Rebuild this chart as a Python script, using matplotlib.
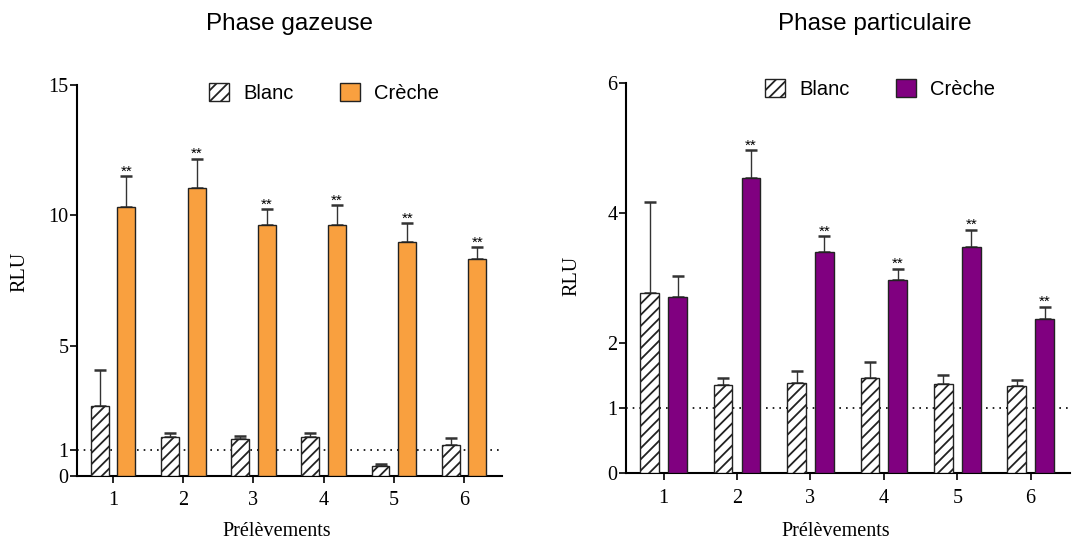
import numpy as np
import matplotlib
matplotlib.use("Agg")
import matplotlib.pyplot as plt
from matplotlib.patches import Patch

prelevements = [1, 2, 3, 4, 5, 6]

# Phase gazeuse
gaz_blanc = [2.70, 1.50, 1.43, 1.51, 0.37, 1.20]
gaz_blanc_err = [1.38, 0.16, 0.12, 0.15, 0.10, 0.25]
gaz_creche = [10.31, 11.06, 9.64, 9.64, 8.96, 8.34]
gaz_creche_err = [1.19, 1.11, 0.60, 0.74, 0.74, 0.44]
gaz_signif = [True, True, True, True, True, True]

# Phase particulaire
part_blanc = [2.78, 1.36, 1.39, 1.46, 1.38, 1.35]
part_blanc_err = [1.40, 0.10, 0.19, 0.25, 0.14, 0.08]
part_creche = [2.71, 4.55, 3.40, 2.97, 3.48, 2.38]
part_creche_err = [0.33, 0.42, 0.25, 0.18, 0.27, 0.18]
part_signif = [False, True, True, True, True, True]

ORANGE = "#F9A03F"
VIOLET = "#800080"

plt.rcParams['hatch.linewidth'] = 1.3
serif = "Liberation Serif"
sans = "Liberation Sans"

fig = plt.figure(figsize=(10.73, 5.42), dpi=100)
ax1 = fig.add_axes([0.0718, 0.1218, 0.396, 0.7214])
ax2 = fig.add_axes([0.5834, 0.1267, 0.4141, 0.7196])


def panneau(ax, blanc, blanc_err, creche, creche_err, signif, couleur,
            ymax, yticks, leg_xy):
    x = np.array(prelevements, dtype=float)
    w = 0.255
    off = 0.19
    ax.axhline(1, color="black", ls=(0, (1, 3)), lw=1.2, zorder=1)
    ax.bar(x - off, blanc, w, color="white", edgecolor="#222222",
           hatch="///", lw=1.0, zorder=3)
    ax.bar(x + off, creche, w, color=couleur, edgecolor="#222222",
           lw=1.0, zorder=3)
    ax.errorbar(x - off, blanc, yerr=[np.zeros(6), blanc_err], fmt="none",
                ecolor="#333333", elinewidth=1.0, capsize=4, capthick=1.8,
                zorder=2)
    ax.errorbar(x + off, creche, yerr=[np.zeros(6), creche_err], fmt="none",
                ecolor="#333333", elinewidth=1.0, capsize=4, capthick=1.8,
                zorder=2)
    for xi, v, e, s in zip(x, creche, creche_err, signif):
        if s:
            ax.annotate("**", (xi + off, v + e), xytext=(0, 0.5),
                        textcoords="offset points", ha="center",
                        va="baseline", fontsize=11, family=sans)

    ax.set_xlim(0.487, 6.54)
    ax.set_ylim(0, ymax)
    ax.set_xticks(prelevements)
    ax.set_yticks(yticks)
    for side in ("top", "right"):
        ax.spines[side].set_visible(False)
    for side in ("left", "bottom"):
        ax.spines[side].set_linewidth(1.5)
    ax.tick_params(direction="out", length=5, width=1.2, labelsize=14.5,
                   pad=1)
    ax.tick_params(axis="x", pad=6)
    for lab in ax.get_xticklabels() + ax.get_yticklabels():
        lab.set_family(serif)

    handles = [Patch(facecolor="white", edgecolor="#222222", hatch="///",
                     label="Blanc"),
               Patch(facecolor=couleur, edgecolor="#222222", label="Crèche")]
    fig.legend(handles=handles, loc="center", bbox_to_anchor=leg_xy,
               ncol=2, frameon=False, prop={"family": sans, "size": 14.5},
               handlelength=1.0, handleheight=1.0, columnspacing=2.3,
               handletextpad=0.7)


panneau(ax1, gaz_blanc, gaz_blanc_err, gaz_creche, gaz_creche_err,
        gaz_signif, ORANGE, 15, [0, 1, 5, 10, 15], (0.302, 0.828))
panneau(ax2, part_blanc, part_blanc_err, part_creche, part_creche_err,
        part_signif, VIOLET, 6, [0, 1, 2, 4, 6], (0.820, 0.836))

# titres, axes
fig.text(0.270, 0.955, "Phase gazeuse", ha="center", va="center",
         family=sans, fontsize=17.5)
fig.text(0.815, 0.955, "Phase particulaire", ha="center", va="center",
         family=sans, fontsize=17.5)
fig.text(0.258, 0.020, "Prélèvements", ha="center", va="center",
         family=serif, fontsize=14.5)
fig.text(0.779, 0.020, "Prélèvements", ha="center", va="center",
         family=serif, fontsize=14.5)
fig.text(0.019, 0.498, "RLU", ha="center", va="center", rotation=90,
         family=serif, fontsize=14.5)
fig.text(0.533, 0.491, "RLU", ha="center", va="center", rotation=90,
         family=serif, fontsize=14.5)

fig.savefig("out.png", dpi=100)
